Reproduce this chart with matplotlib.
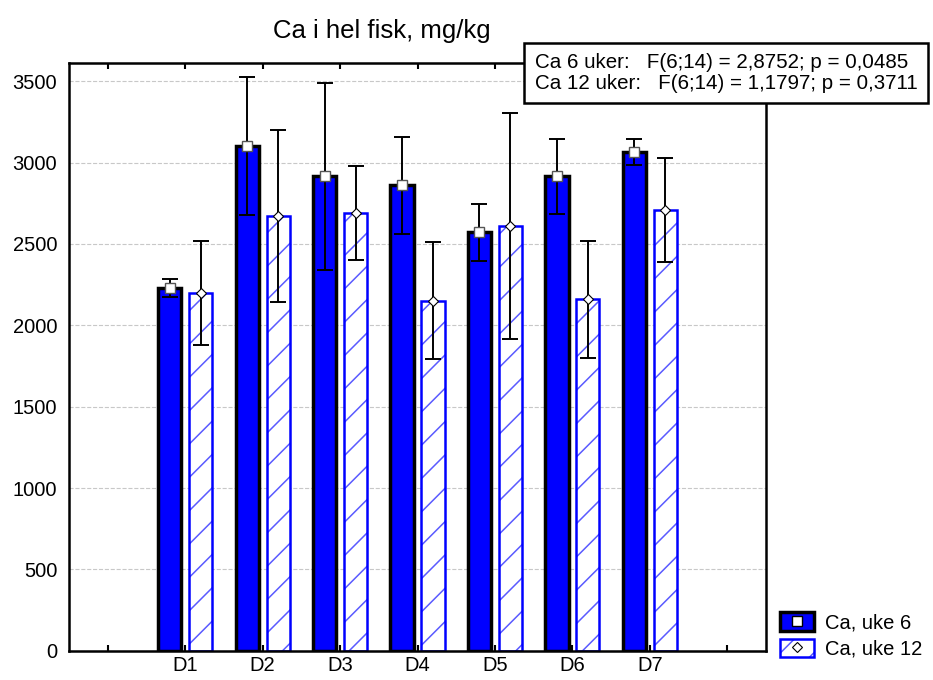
import matplotlib.pyplot as plt
from matplotlib.lines import Line2D
from matplotlib.patches import Patch
import numpy as np

plt.rcParams['font.family'] = ['Liberation Sans', 'DejaVu Sans']
plt.rcParams['hatch.linewidth'] = 1.1

groups = ['D1', 'D2', 'D3', 'D4', 'D5', 'D6', 'D7']
uke6_mean = [2230, 3100, 2915, 2860, 2570, 2915, 3063]
uke6_err = [55, 425, 573, 297, 175, 230, 80]
uke12_mean = [2200, 2670, 2690, 2150, 2610, 2160, 2710]
uke12_err = [320, 530, 290, 360, 695, 360, 320]
stats_text = ['Ca 6 uker:   F(6;14) = 2,8752; p = 0,0485',
              'Ca 12 uker:   F(6;14) = 1,1797; p = 0,3711']

fig = plt.figure(figsize=(9.33, 6.8), dpi=100)
ax = fig.add_axes([0.074, 0.043, 0.747, 0.864])

x = np.arange(1, len(groups) + 1)
off = 0.2
w = 0.3
hatch_col = '#5a5aff'

ax.bar(x - off, uke6_mean, w, color='#0000ff', edgecolor='black', linewidth=2.5, zorder=2)
# hatched bars: light hatch first, then a solid blue outline on top
ax.bar(x + off, uke12_mean, w, color='white', edgecolor=hatch_col, hatch='/', linewidth=0, zorder=2)
ax.bar(x + off, uke12_mean, w, fill=False, edgecolor='#0000ff', linewidth=1.8, zorder=2)

ax.errorbar(x - off, uke6_mean, yerr=uke6_err, fmt='none', ecolor='black', elinewidth=1.4,
            capsize=6, capthick=1.4, zorder=3)
ax.errorbar(x + off, uke12_mean, yerr=uke12_err, fmt='none', ecolor='black', elinewidth=1.4,
            capsize=6, capthick=1.4, zorder=3)
ax.plot(x - off, uke6_mean, 's', ms=7, mfc='white', mec='#555555', mew=1, zorder=4)
ax.plot(x + off, uke12_mean, 'D', ms=5, mfc='white', mec='black', mew=0.8, zorder=4)

ax.set_xlim(-0.5, 8.5)
ax.set_ylim(0, 3610)
ax.set_xticks(np.arange(0, 9))
ax.set_xticklabels([''] + groups + [''])
ax.set_yticks(np.arange(0, 3501, 500))
ax.tick_params(axis='x', direction='in', length=4, width=1.5, top=True, labelsize=14.5, pad=4)
ax.tick_params(axis='y', length=0, labelsize=14.5, pad=8.5)
ax.yaxis.grid(True, color='#c8c8c8', linestyle='--', linewidth=0.8, zorder=0)
ax.set_axisbelow(True)
for s in ax.spines.values():
    s.set_linewidth(1.8)

fig.text(0.409, 0.955, 'Ca i hel fisk, mg/kg', ha='center', va='center', fontsize=18.5)

fig.text(0.573, 0.893, '\n'.join(stats_text), ha='left', va='center', fontsize=14.8, linespacing=1.12,
         bbox=dict(boxstyle='square,pad=0.5', fc='white', ec='black', lw=1.8), zorder=10)

h6 = (Patch(facecolor='#0000ff', edgecolor='black', linewidth=2.5),
      Line2D([], [], marker='s', ms=7, mfc='white', mec='black', mew=1, ls='none'))
h12 = (Patch(facecolor='white', edgecolor=hatch_col, hatch='/', linewidth=0),
       Patch(fill=False, edgecolor='#0000ff', linewidth=1.8),
       Line2D([], [], marker='D', ms=5, mfc='white', mec='black', mew=0.8, ls='none'))
fig.legend([h6, h12], ['Ca, uke 6', 'Ca, uke 12'], loc='lower left', bbox_to_anchor=(0.836, 0.031),
           frameon=False, fontsize=14.5, handlelength=1.7, handleheight=1.05, handletextpad=0.55,
           labelspacing=0.3, borderpad=0, borderaxespad=0)

fig.savefig('out.png', dpi=100)
